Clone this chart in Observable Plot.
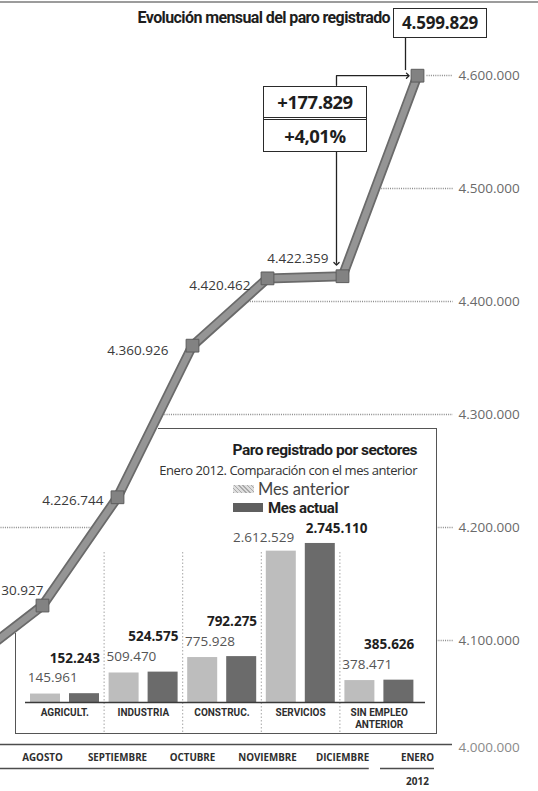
<!DOCTYPE html>
<html>
<head>
<meta charset="utf-8">
<script src="https://cdn.jsdelivr.net/npm/d3@7"></script>
<script src="https://cdn.jsdelivr.net/npm/@observablehq/plot@0.6"></script>
<style>
  body { margin: 0; background: #fff; }
  #wrap { position: relative; width: 538px; height: 791px; overflow: hidden; background: #fff; font-family: "Open Sans", sans-serif; color: #333; }
  #wrap > * { position: absolute; }
  .layer { left: 0; top: 0; }
  .topline { left: 0; top: 1px; width: 538px; height: 2px; background: #9c9c9c; }
  .title { right: 148px; top: 8px; line-height: 20px; font-family: Roboto, sans-serif; font-weight: 700; font-size: 16px; letter-spacing: -0.6px; color: #1e1e1e; white-space: nowrap; }
  .box1 { left: 393px; top: 8px; width: 94px; height: 30px; box-sizing: border-box; border: 1.5px solid #2a2a2a; background: #fff;
          font-weight: 700; font-size: 17px; line-height: 27px; text-align: center; color: #1e1e1e; letter-spacing: -0.2px; }
  .box2 { left: 263px; top: 86px; width: 104px; height: 66px; box-sizing: border-box; border: 1.5px solid #2a2a2a; background: #fff;
          font-weight: 700; font-size: 18.5px; text-align: center; color: #1e1e1e; letter-spacing: -0.5px; }
  .box2 .r1 { height: 30px; line-height: 30px; border-bottom: 3px double #2a2a2a; }
  .box2 .r2 { height: 31px; line-height: 31px; }
  .bgA { left: 158px; top: 428px; width: 279px; height: 306px; box-sizing: border-box; background: #fff;
         border-top: 1.5px solid #555; border-right: 1.5px solid #555; border-bottom: 1.5px solid #555; }
  .bgB { left: 15px; top: 633px; width: 145px; height: 101px; box-sizing: border-box; background: #fff;
         border-left: 1.5px solid #555; border-bottom: 1.5px solid #555; }
  .ititle { right: 121px; top: 440px; line-height: 20px; font-family: Roboto, sans-serif; font-weight: 700; font-size: 15.5px; letter-spacing: -0.5px; color: #1e1e1e; white-space: nowrap; }
  .isub { right: 121px; top: 462px; line-height: 17px; font-size: 13px; letter-spacing: -0.45px; color: #333; white-space: nowrap; }
  .sw1 { left: 233px; top: 485px; width: 21px; height: 8px; background: repeating-linear-gradient(45deg, #a9a9a9 0 1px, #dedede 1px 3px); }
  .sw2 { left: 233px; top: 503px; width: 30px; height: 9px; background: #5f5f5f; }
  .lg1 { left: 258px; top: 480px; line-height: 18px; font-family: Lato, sans-serif; font-size: 16.5px; letter-spacing: -0.1px; color: #444; white-space: nowrap; }
  .lg2 { left: 268px; top: 499px; line-height: 18px; font-family: Roboto, sans-serif; font-weight: 700; font-size: 15px; letter-spacing: -0.4px; color: #222; white-space: nowrap; }
</style>
</head>
<body>
<div id="wrap"></div>
<script>
// ---------- data ----------
const meses = ["JULIO", "AGOSTO", "SEPTIEMBRE", "OCTUBRE", "NOVIEMBRE", "DICIEMBRE", "ENERO"];
const paro = [4079742, 4130927, 4226744, 4360926, 4420462, 4422359, 4599829];
const anio = "2012";
const yTicks = [4000000, 4100000, 4200000, 4300000, 4400000, 4500000, 4600000];
const variacionAbs = "+177.829";
const variacionPct = "+4,01%";

const sectores = ["AGRICULT.", "INDUSTRIA", "CONSTRUC.", "SERVICIOS", "SIN EMPLEO\nANTERIOR"];
const mesAnterior = [145961, 509470, 775928, 2612529, 378471];
const mesActual = [152243, 524575, 792275, 2745110, 385626];

// ---------- helpers ----------
const fmt = d3.formatLocale({decimal: ",", thousands: ".", grouping: [3], currency: ["", "€"]}).format(",d");
const W = 538, H = 791;
const xMain = {type: "linear", domain: [1, 6], range: [42, 417], axis: null};
const yMain = {type: "linear", domain: [4000000, 4600000], range: [753, 75], axis: null};
const font = "'Open Sans', sans-serif";
const lastIdx = paro.length - 1;
const gridEnd = lastIdx + 0.47;

// month-index where the series reaches level t
function crossing(t) {
  for (let i = 0; i < paro.length - 1; i++) {
    if (paro[i] <= t && t <= paro[i + 1]) return i + (t - paro[i]) / (paro[i + 1] - paro[i]);
  }
  return t > paro[lastIdx] ? lastIdx + 0.1 : 0;
}

const wrap = document.getElementById("wrap");
function addLayer(el) { el.classList.add("layer"); wrap.appendChild(el); return el; }
function div(cls, html) { const d = document.createElement("div"); d.className = cls; d.innerHTML = html || ""; wrap.appendChild(d); return d; }

// grid segments: upper levels run from the series to the axis; lower levels show left of the series and beside the axis
const upper = yTicks.filter(t => t >= 4300000);
const lower = yTicks.filter(t => t > 4000000 && t < 4300000);
const gridSegs = [
  ...upper.map(t => ({t, a: crossing(t) + 0.02, b: gridEnd})),
  ...lower.map(t => ({t, a: 0, b: crossing(t) - 0.06})),
  ...lower.map(t => ({t, a: lastIdx + 0.25, b: gridEnd}))
];

// ---------- bottom layer: grid, right axis, month axis ----------
const bottomPlot = Plot.plot({
  width: W, height: H, marginTop: 0, marginLeft: 0, marginBottom: 0, marginRight: 86,
  x: xMain, y: yMain,
  style: {background: "transparent", fontFamily: font},
  marks: [
    Plot.link(gridSegs, {x1: "a", x2: "b", y1: "t", y2: "t", stroke: "#8c8c8c", strokeWidth: 1.3, strokeDasharray: "1 1.2"}),
    Plot.text(yTicks.filter(t => t > 4000000), {y: d => d, frameAnchor: "right", textAnchor: "start", dx: 6, text: d => fmt(d), fill: "#6a6a6a", fontSize: 13.5, letterSpacing: -0.3}),
    Plot.text([4000000], {y: d => d, frameAnchor: "right", textAnchor: "start", dx: 6, dy: -6, text: d => fmt(d), fill: "#8a8a8a", fontSize: 13.5, letterSpacing: -0.3}),
    Plot.ruleY([4000000], {y: d => d, dy: -9, stroke: "#4d4d4d", strokeWidth: 1.3}),
    Plot.link([[0, 5.35], [5.5, 6.22]], {x1: d => d[0], x2: d => d[1], y1: () => 4000000, y2: () => 4000000, dy: 15, stroke: "#4d4d4d", strokeWidth: 1.3}),
    Plot.text(meses.slice(1), {x: (d, i) => i + 1, y: () => 4000000, dy: 4, text: d => d, fontWeight: "bold", fontSize: 9.8, fill: "#2e2e2e"}),
    Plot.text([anio], {x: () => lastIdx, y: () => 4000000, dy: 28, text: d => d, fontWeight: "bold", fontSize: 10, fill: "#2e2e2e"})
  ]
});
addLayer(bottomPlot);

// ---------- inset: paro por sectores ----------
div("bgA");
div("bgB");

const rows = sectores.map((s, i) => ({sector: s, anterior: mesAnterior[i], actual: mesActual[i]}));
const bandRange = [25, 418];
const bw = (bandRange[1] - bandRange[0]) / sectores.length;
const serv = rows.filter(r => r.sector === "SERVICIOS");
const other = rows.filter(r => r.sector !== "SERVICIOS");

const insetPlot = Plot.plot({
  width: 440, height: 320, marginTop: 132, marginBottom: 8, marginLeft: 25, marginRight: 15,
  x: {type: "band", domain: sectores, range: bandRange, padding: 0, round: false, axis: null},
  y: {type: "linear", domain: [0, 3000000], range: [282, 108.2], axis: null},
  style: {background: "transparent", fontFamily: font},
  marks: [
    Plot.ruleX(sectores.slice(1), {x: d => d, dx: -bw / 2, stroke: "#a5a5a5", strokeWidth: 1, strokeDasharray: "1.5 2"}),
    Plot.barY(rows, {x: "sector", y: "anterior", fill: "#bdbdbd", insetLeft: 5, insetRight: bw - 35}),
    Plot.barY(rows, {x: "sector", y: "actual", fill: "#6b6b6b", insetLeft: 44, insetRight: bw - 74}),
    Plot.ruleY([0], {stroke: "#3a3a3a", strokeWidth: 1.3}),
    Plot.text(other, {x: "sector", y: "anterior", text: r => fmt(r.anterior), dx: -12, dy: -16, fill: "#555", fontSize: 13.5, letterSpacing: -0.3}),
    Plot.text(other, {x: "sector", y: "actual", text: r => fmt(r.actual), dx: 10, dy: -35, fill: "#1e1e1e", fontWeight: "bold", fontSize: 13.5, letterSpacing: -0.3}),
    Plot.text(serv, {x: "sector", y: "anterior", text: r => fmt(r.anterior), dx: -37, dy: -13, fill: "#555", fontSize: 13.5, letterSpacing: -0.3}),
    Plot.text(serv, {x: "sector", y: "actual", text: r => fmt(r.actual), dx: 36, dy: -15, fill: "#1e1e1e", fontWeight: "bold", fontSize: 13.5, letterSpacing: -0.3}),
    Plot.text(sectores, {x: d => d, y: () => 0, dy: 5, lineAnchor: "top", lineHeight: 1.18, text: d => d, fontFamily: "Roboto, sans-serif", fontWeight: "bold", fontSize: 10, fill: "#2e2e2e"})
  ]
});
insetPlot.style.left = "0px";
insetPlot.style.top = "420px";
wrap.appendChild(insetPlot);

div("ititle", "Paro registrado por sectores");
div("isub", "Enero 2012. Comparación con el mes anterior");
div("sw1");
div("lg1", "Mes anterior");
div("sw2");
div("lg2", "Mes actual");

// ---------- top layer: the line, markers, labels, arrows ----------
const labelOffsets = [null, [1, -15], [-14, 3], [-24, 5], [-17, 7], [-14, -18], null];
const pointLabels = paro.map((v, i) => labelOffsets[i] &&
  Plot.text([v], {x: () => i, y: d => d, text: d => fmt(d), textAnchor: "end", dx: labelOffsets[i][0], dy: labelOffsets[i][1],
    fill: "#3a3a3a", fontSize: 13.5, letterSpacing: -0.3})).filter(Boolean);

const dec = paro[lastIdx - 1], jan = paro[lastIdx];
const topPlot = Plot.plot({
  width: W, height: H, marginTop: 0, marginLeft: 0, marginBottom: 0, marginRight: 86,
  x: xMain, y: yMain,
  style: {background: "transparent", fontFamily: font},
  marks: [
    Plot.line(paro, {x: (d, i) => i, y: d => d, stroke: "#6a6a6a", strokeWidth: 10, strokeLinejoin: "miter", clip: true}),
    Plot.line(paro, {x: (d, i) => i, y: d => d, stroke: "#959595", strokeWidth: 6.5, strokeLinejoin: "miter", clip: true}),
    Plot.dot(paro.slice(1), {x: (d, i) => i + 1, y: d => d, symbol: "square", r: 7.2, fill: "#828282", stroke: "#5c5c5c", strokeWidth: 1}),
    ...pointLabels,
    Plot.link([0], {x1: () => lastIdx - 0.16, x2: () => lastIdx - 0.16, y1: () => jan + 34000, y2: () => jan + 5000, stroke: "#222", strokeWidth: 1.3}),
    Plot.line([[lastIdx - 1.08, jan - 8500], [lastIdx - 1.08, jan], [lastIdx - 0.13, jan]], {x: d => d[0], y: d => d[1], stroke: "#222", strokeWidth: 1.3, markerEnd: "arrow"}),
    Plot.link([0], {x1: () => lastIdx - 1.08, x2: () => lastIdx - 1.08, y1: () => dec + 110000, y2: () => dec + 11000, stroke: "#222", strokeWidth: 1.3, markerEnd: "arrow"})
  ]
});
addLayer(topPlot);

div("topline");
div("title", "Evolución mensual del paro registrado");
div("box1", fmt(jan));
div("box2", `<div class="r1">${variacionAbs}</div><div class="r2">${variacionPct}</div>`);
</script>
</body>
</html>
